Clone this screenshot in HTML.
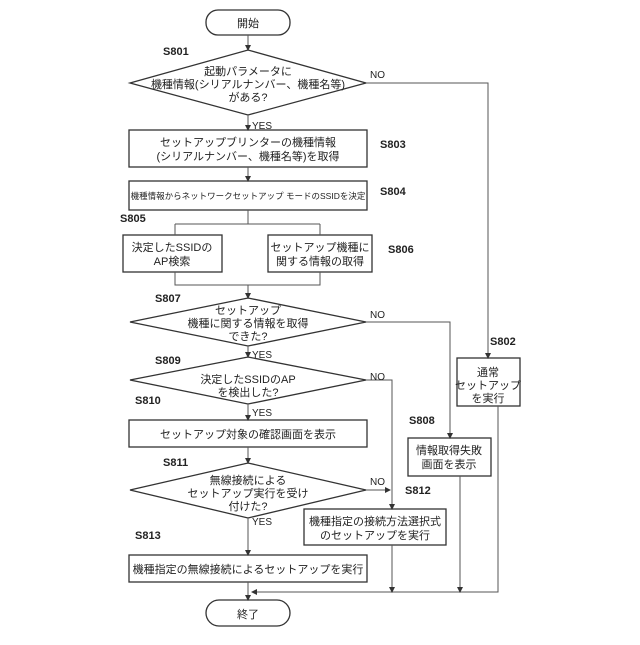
<!DOCTYPE html>
<html><head><meta charset="utf-8"><style>
body{margin:0;background:#fff}
svg text{font-family:"Liberation Sans","Noto Sans CJK JP",sans-serif;fill:#222}
.l{font-size:11px;text-anchor:middle}
.b{font-size:11px;font-weight:bold}
.s{font-size:10px}
</style></head><body>
<svg width="640" height="640" viewBox="0 0 640 640" xmlns="http://www.w3.org/2000/svg">
<defs><marker id="a" markerWidth="6" markerHeight="6" refX="5" refY="3" orient="auto"><path d="M0,0L6,3L0,6z" fill="#333"/></marker></defs>
<g fill="none" stroke="#333" stroke-width="1.3">
<rect x="206" y="10" width="84" height="25" rx="12"/>
<polygon points="130,83 248,50 366,83 248,115"/>
<rect x="129" y="130" width="238" height="37"/>
<rect x="129" y="181" width="238" height="29"/>
<rect x="123" y="235" width="99" height="37"/>
<rect x="268" y="235" width="104" height="37"/>
<polygon points="130,322 248,298 366,322 248,346"/>
<polygon points="130,380 248,357 366,380 248,404"/>
<rect x="129" y="420" width="238" height="27"/>
<polygon points="130,490 248,463 366,490 248,518"/>
<rect x="304" y="509" width="142" height="36"/>
<rect x="129" y="555" width="238" height="27"/>
<rect x="457" y="358" width="63" height="48"/>
<rect x="408" y="438" width="83" height="38"/>
<rect x="206" y="600" width="84" height="26" rx="13"/>
</g>
<g fill="none" stroke="#555" stroke-width="1">
<path d="M248,35V50" marker-end="url(#a)"/>
<path d="M248,115V130" marker-end="url(#a)"/>
<path d="M248,167V181" marker-end="url(#a)"/>
<path d="M248,210V224"/>
<path d="M175,224H320M175,224V235M320,224V235"/>
<path d="M175,272V285H320V272"/>
<path d="M248,285V298" marker-end="url(#a)"/>
<path d="M248,346V357" marker-end="url(#a)"/>
<path d="M248,404V420" marker-end="url(#a)"/>
<path d="M248,447V463" marker-end="url(#a)"/>
<path d="M248,518V555" marker-end="url(#a)"/>
<path d="M248,582V600" marker-end="url(#a)"/>
<path d="M366,83H488V358" marker-end="url(#a)"/>
<path d="M366,322H450V438" marker-end="url(#a)"/>
<path d="M366,380H392V509" marker-end="url(#a)"/>
<path d="M366,490H390" marker-end="url(#a)"/>
<path d="M498,406V592H252" marker-end="url(#a)"/>
<path d="M460,476V592" marker-end="url(#a)"/>
<path d="M392,545V592" marker-end="url(#a)"/>
</g>
<text class="l" x="248" y="27">開始</text>
<text class="l" x="248" y="75">起動パラメータに</text>
<text class="l" x="248" y="88">機種情報(シリアルナンバー、機種名等)</text>
<text class="l" x="248" y="101">がある?</text>
<text class="l" x="248" y="146">セットアップブリンターの機種情報</text>
<text class="l" x="248" y="160">(シリアルナンバー、機種名等)を取得</text>
<text class="l" x="248" y="199" style="font-size:8.5px">機種情報からネットワークセットアップ モードのSSIDを決定</text>
<text class="l" x="172" y="251">決定したSSIDの</text>
<text class="l" x="172" y="265">AP検索</text>
<text class="l" x="320" y="251">セットアップ機種に</text>
<text class="l" x="320" y="265">関する情報の取得</text>
<text class="l" x="248" y="314">セットアップ</text>
<text class="l" x="248" y="327">機種に関する情報を取得</text>
<text class="l" x="248" y="340">できた?</text>
<text class="l" x="248" y="383">決定したSSIDのAP</text>
<text class="l" x="248" y="396">を検出した?</text>
<text class="l" x="248" y="438">セットアップ対象の確認画面を表示</text>
<text class="l" x="248" y="484">無線接続による</text>
<text class="l" x="248" y="497">セットアップ実行を受け</text>
<text class="l" x="248" y="510">付けた?</text>
<text class="l" x="375" y="525">機種指定の接続方法選択式</text>
<text class="l" x="375" y="539">のセットアップを実行</text>
<text class="l" x="248" y="573">機種指定の無線接続によるセットアップを実行</text>
<text class="l" x="488" y="376">通常</text>
<text class="l" x="488" y="389">セットアップ</text>
<text class="l" x="488" y="402">を実行</text>
<text class="l" x="449" y="454">情報取得失敗</text>
<text class="l" x="449" y="468">画面を表示</text>
<text class="l" x="248" y="618">終了</text>
<g class="s">
<text x="252" y="129">YES</text><text x="252" y="358">YES</text><text x="252" y="416">YES</text><text x="252" y="525">YES</text>
<text x="370" y="78">NO</text><text x="370" y="318">NO</text><text x="370" y="380">NO</text><text x="370" y="485">NO</text>
</g>
<g class="b">
<text x="163" y="55">S801</text><text x="380" y="148">S803</text><text x="380" y="195">S804</text>
<text x="120" y="222">S805</text><text x="388" y="253">S806</text><text x="155" y="302">S807</text>
<text x="155" y="364">S809</text><text x="135" y="404">S810</text><text x="163" y="466">S811</text>
<text x="405" y="494">S812</text><text x="135" y="539">S813</text><text x="490" y="345">S802</text>
<text x="409" y="424">S808</text>
</g>
</svg>
</body></html>
